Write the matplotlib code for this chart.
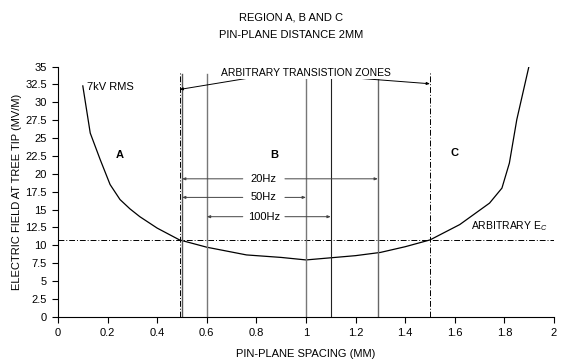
import matplotlib.pyplot as plt

plt.rcParams['font.family'] = ['Liberation Sans', 'DejaVu Sans']
plt.rcParams['font.size'] = 7.5
plt.rcParams['mathtext.fontset'] = 'custom'
plt.rcParams['mathtext.rm'] = 'Liberation Sans'
plt.rcParams['mathtext.it'] = 'Liberation Sans:italic'

# field at tree tip vs pin-plane spacing, 7kV RMS
spacing = [0.10, 0.13, 0.17, 0.21, 0.25, 0.29, 0.33, 0.40, 0.49, 0.60, 0.76, 0.90, 1.00,
           1.20, 1.30, 1.40, 1.50, 1.62, 1.74, 1.79, 1.82, 1.85, 1.90]
field = [32.3, 25.7, 22.0, 18.5, 16.4, 15.1, 14.0, 12.4, 10.75, 9.73, 8.65, 8.3, 7.95,
         8.55, 9.0, 9.8, 10.75, 12.9, 15.9, 18.0, 21.5, 27.6, 35.2]

ec_level = 10.8
zone_edges = [0.49, 1.5]
freq_lines = [0.5, 0.6, 1.0, 1.1, 1.29]
freq_colors = ['#555555', '#777777', '#777777', '#222222', '#666666']
freq_widths = [1.0, 1.0, 1.0, 0.8, 1.0]

freq_labels = ['20Hz', '50Hz', '100Hz']
freq_start = [0.5, 0.5, 0.6]
freq_end = [1.29, 1.0, 1.1]
freq_y = [19.3, 16.7, 14.0]
label_x = 0.83
label_gap = 0.085

region_labels = ['A', 'B', 'C']
region_x = [0.25, 0.87, 1.6]
region_y = [22.7, 22.7, 22.9]

fig = plt.figure(figsize=(5.62, 3.62), dpi=100)
ax = fig.add_axes([0.1032, 0.125, 0.8826, 0.691])

ax.plot(spacing, field, color='black', lw=0.9)

ax.axhline(ec_level, color='black', lw=0.7, ls='-.', dashes=(6, 2, 1, 2))
for xv in zone_edges:
    ax.plot([xv, xv], [0, 34.2], color='black', lw=0.7, ls='-.', dashes=(6, 2, 1, 2))
for xv, c, w in zip(freq_lines, freq_colors, freq_widths):
    ax.plot([xv, xv], [0, 34.0], color=c, lw=w)

arrow_style = dict(arrowstyle='-|>,head_length=0.25,head_width=0.1',
                   color='#444444', lw=0.7, shrinkA=0, shrinkB=0)
for lab, x0, x1, yv in zip(freq_labels, freq_start, freq_end, freq_y):
    ax.annotate('', xy=(x0, yv), xytext=(label_x - label_gap, yv), arrowprops=arrow_style)
    ax.annotate('', xy=(x1, yv), xytext=(label_x + label_gap, yv), arrowprops=arrow_style)
    ax.text(label_x, yv, lab, ha='center', va='center', fontsize=8)

for lab, xv, yv in zip(region_labels, region_x, region_y):
    ax.text(xv, yv, lab, ha='center', va='center', fontsize=8, fontweight='bold')

ax.text(0.115, 32.2, '7kV RMS', ha='left', va='center', fontsize=8)
ax.text(1.0, 34.1, 'ARBITRARY TRANSISTION ZONES', ha='center', va='center', fontsize=7.5,
        bbox=dict(boxstyle='square,pad=0.1', facecolor='white', edgecolor='none'), zorder=5)
pointer = dict(arrowstyle='-|>,head_length=0.25,head_width=0.1',
               color='black', lw=0.7, shrinkA=0, shrinkB=0)
ax.annotate('', xy=(0.49, 31.8), xytext=(0.77, 33.4), arrowprops=pointer)
ax.annotate('', xy=(1.5, 32.6), xytext=(1.2, 33.4), arrowprops=pointer)
ax.text(1.665, 12.7, r'ARBITRARY E$_{\mathit{C}}$', ha='left', va='center', fontsize=7.5)

ax.set_xlim(0, 2)
ax.set_ylim(0, 35)
ax.set_xticks([0, 0.2, 0.4, 0.6, 0.8, 1, 1.2, 1.4, 1.6, 1.8, 2])
ax.set_xticklabels(['0', '0.2', '0.4', '0.6', '0.8', '1', '1.2', '1.4', '1.6', '1.8', '2'])
ax.set_yticks([0, 2.5, 5, 7.5, 10, 12.5, 15, 17.5, 20, 22.5, 25, 27.5, 30, 32.5, 35])
ax.set_yticklabels(['0', '2.5', '5', '7.5', '10', '12.5', '15', '17.5', '20', '22.5',
                    '25', '27.5', '30', '32.5', '35'])
ax.tick_params(direction='out', length=4, width=0.8, labelsize=8, pad=4)
ax.spines['top'].set_visible(False)
ax.spines['right'].set_visible(False)
ax.set_xlabel('PIN-PLANE SPACING (MM)', fontsize=8, labelpad=8)
ax.set_ylabel('ELECTRIC FIELD AT TREE TIP (MV/M)', fontsize=8, labelpad=2)

fig.text(0.518, 0.953, 'REGION A, B AND C', ha='center', va='center', fontsize=8)
fig.text(0.518, 0.903, 'PIN-PLANE DISTANCE 2MM', ha='center', va='center', fontsize=8)

fig.savefig('out.png', dpi=100)
